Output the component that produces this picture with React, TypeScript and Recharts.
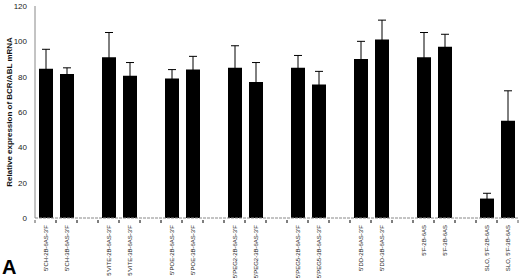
import { BarChart, Bar, XAxis, YAxis, ErrorBar } from 'recharts';

const labels = [
  "5'CH-2B-6AS-3'F", "5'CH-3B-6AS-3'F",
  "5'VITE-2B-6AS-3'F", "5'VITE-3B-6AS-3'F",
  "5'POE-2B-6AS-3'F", "5'POE-3B-6AS-3'F",
  "5'PEG2-2B-6AS-3'F", "5'PEG2-3B-6AS-3'F",
  "5'PEG5-2B-6AS-3'F", "5'PEG5-3B-6AS-3'F",
  "5'DD-2B-6AS-3'F", "5'DD-3B-6AS-3'F",
  "5'F-2B-6AS", "5'F-3B-6AS",
  "SLO, 5'F-2B-6AS", "SLO, 5'F-3B-6AS",
];
const means = [84.5, 81.5, 91, 80.5, 79, 84, 85, 77, 85, 75.5, 90, 101, 91, 97, 11, 55];
const errors = [11, 3.5, 14, 7.5, 5, 7.5, 12.5, 11, 7, 7.5, 10, 11, 14, 7, 3, 17];
const yTicks = [0, 20, 40, 60, 80, 100, 120];

// pairs of bars with an empty slot between each pair
const data: { label: string; value?: number; err?: number }[] = [];
labels.forEach((label, i) => {
  data.push({ label, value: means[i], err: errors[i] });
  if (i % 2 === 1 && i < labels.length - 1) data.push({ label: '' });
});

const font = "'Liberation Sans Narrow', 'Liberation Sans', Arial, sans-serif";

function CategoryTick(props: any) {
  const { x, y, payload } = props;
  const half = payload.offset ?? 10.5;
  return (
    <g>
      <line x1={x - half} y1={y - 6} x2={x - half} y2={y - 3} stroke="#555" />
      <line x1={x + half} y1={y - 6} x2={x + half} y2={y - 3} stroke="#555" />
      {payload.value ? (
        <text
          x={x}
          y={y - 1}
          transform={`rotate(-90, ${x}, ${y - 1})`}
          textAnchor="end"
          dominantBaseline="central"
          fontSize={6}
          fontFamily={font}
          fill="#222"
        >
          {payload.value}
        </text>
      ) : null}
    </g>
  );
}

function YTitle() {
  return (
    <text
      x={9}
      y={112}
      transform="rotate(-90, 9, 112)"
      textAnchor="middle"
      dominantBaseline="central"
      fontSize={8}
      fontWeight="bold"
      fontFamily="'Liberation Sans', Arial, sans-serif"
      fill="#111"
    >
      Relative expression of BCR/ABL mRNA
    </text>
  );
}

export default function App() {
  return (
    <div style={{ position: 'absolute', left: 0, top: 0, width: 520, height: 280, background: '#fff' }}>
      <BarChart
        width={520}
        height={280}
        data={data}
        margin={{ top: 6, right: 2, bottom: 0, left: 0 }}
        barSize={14}
      >
        <XAxis
          dataKey="label"
          interval={0}
          height={62}
          tickLine={false}
          tick={<CategoryTick />}
          axisLine={{ stroke: '#888', strokeDasharray: '3 1' }}
        />
        <YAxis
          width={35}
          domain={[0, 120]}
          ticks={yTicks}
          tickLine={false}
          tickSize={6}
          tickMargin={2}
          axisLine={{ stroke: '#888' }}
          tick={{ fontSize: 8, fill: '#222', fontFamily: font }}
          label={<YTitle />}
        />
        <Bar dataKey="value" fill="#000" isAnimationActive={false}>
          <ErrorBar dataKey="err" direction="y" width={4} stroke="#000" strokeWidth={1} />
        </Bar>
      </BarChart>
      <span
        style={{
          position: 'absolute',
          left: 2,
          top: 256,
          fontSize: 20,
          fontWeight: 'bold',
          fontFamily: "'Liberation Sans', Arial, sans-serif",
          lineHeight: '22px',
        }}
      >
        A
      </span>
    </div>
  );
}
